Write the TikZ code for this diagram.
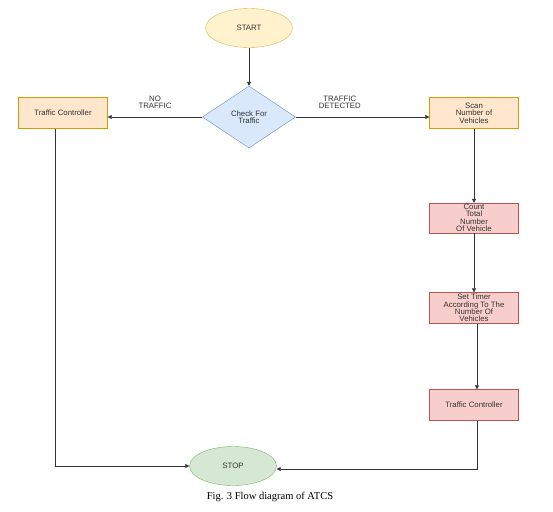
\documentclass[tikz,border=0pt]{standalone}
\usepackage{fontspec}
\setmainfont{Liberation Sans}
\newfontfamily\capfont{Liberation Serif}
\usepackage{xcolor}
\usetikzlibrary{arrows.meta,positioning,calc,shapes.geometric}
\definecolor{startfill}{HTML}{FFF2CC}\definecolor{startline}{HTML}{D6B656}
\definecolor{decfill}{HTML}{DAE8FC}\definecolor{decline}{HTML}{6C8EBF}
\definecolor{orfill}{HTML}{FFE6CC}\definecolor{orline}{HTML}{D79B00}
\definecolor{redfill}{HTML}{F8CECC}\definecolor{redline}{HTML}{B85450}
\definecolor{stopfill}{HTML}{D5E8D4}\definecolor{stopline}{HTML}{82B366}
\definecolor{wire}{HTML}{333333}

\begin{document}
\begin{tikzpicture}[x=1pt,y=-1pt,>={Triangle[length=4pt,width=4pt]},
  every node/.style={font=\fontsize{7.8}{7.4}\selectfont,text=black!80,align=center,inner sep=0pt},
  term/.style={ellipse,draw,minimum width=87pt,minimum height=39pt},
  box/.style={draw,minimum width=89pt,minimum height=31pt},
  flow/.style={->,draw=wire,line width=0.6pt}]
  \useasboundingbox (0,0) rectangle (553,511);
  \node[term,fill=startfill,draw=startline] (start) at (249,28) {START};
  \node[diamond,draw=decline,fill=decfill,minimum width=93pt,minimum height=62pt,aspect=1.5] (check) at (249,117) {Check For\\Traffic};
  \node[box,fill=orfill,draw=orline] (tcl) at (63,113) {Traffic Controller};
  \node[box,fill=orfill,draw=orline] (scan) at (474,113) {Scan\\Number of\\Vehicles};
  \node[box,fill=redfill,draw=redline,minimum height=30pt] (count) at (474,218) {Count\\Total\\Number\\Of Vehicle};
  \node[box,fill=redfill,draw=redline] (timer) at (474,308) {Set Timer\\According To The\\Number Of\\Vehicles};
  \node[box,fill=redfill,draw=redline] (tcr) at (474,405) {Traffic Controller};
  \node[term,fill=stopfill,draw=stopline] (stop) at (233,466) {STOP};
  % connectors
  \draw[flow] (start) -- (check);
  \draw[flow] (check.west) -- node[above=8pt]{NO\\TRAFFIC} (check.west -| tcl.east);
  \draw[flow] (check.east) -- node[pos=0.33,above=8pt]{TRAFFIC\\DETECTED} (check.east -| scan.west);
  \draw[flow] (scan) -- (count);
  \draw[flow] (count) -- (timer);
  \draw[flow] ([xshift=3pt]timer.south) -- ([xshift=3pt]tcr.north);
  \draw[flow] ([xshift=3pt]tcr.south) |- ([yshift=-3pt]stop.east);
  \draw[flow] ([xshift=-8pt]tcl.south) |- (stop.west);
  \node[font=\capfont\fontsize{10.5}{12}\selectfont,text=black] (caption) at (270,497) {Fig. 3 Flow diagram of ATCS};
\end{tikzpicture}
\end{document}
